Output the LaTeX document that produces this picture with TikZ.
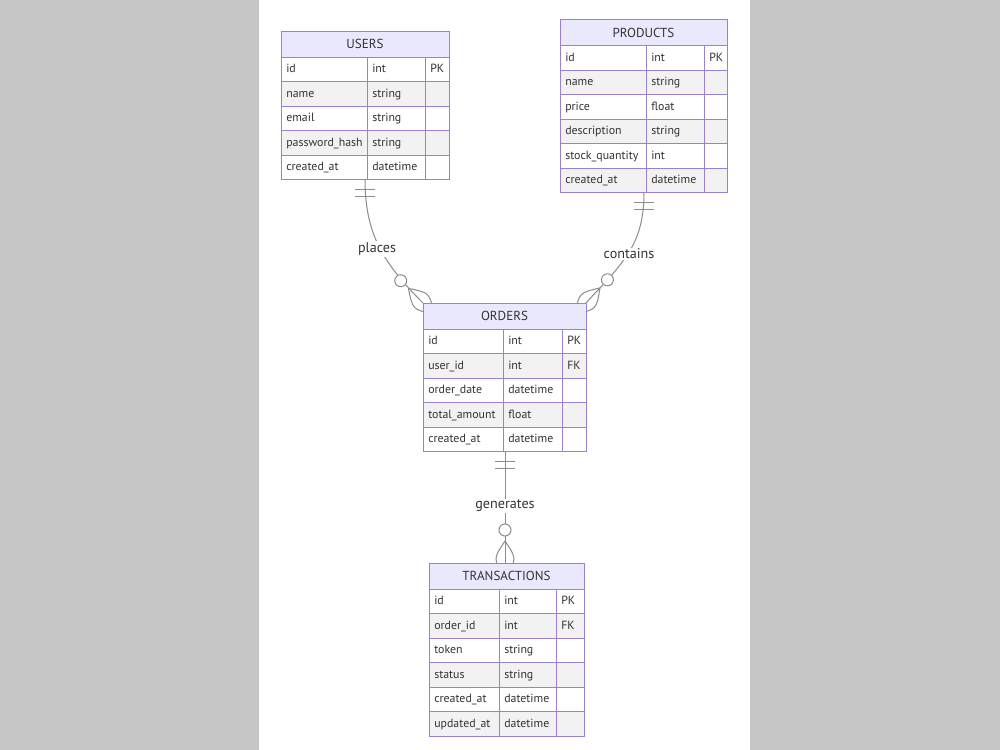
\documentclass[tikz,border=0pt]{standalone}
\usepackage{fontspec}
\setmainfont{PT Sans}
\usepackage{tikz}
\definecolor{erline}{HTML}{9A80DC}
\definecolor{erhead}{HTML}{EAE8FC}
\definecolor{errow}{HTML}{F2F2F2}
\definecolor{ertext}{HTML}{333333}
\definecolor{erlink}{HTML}{8C8C8C}
\definecolor{panel}{HTML}{C6C6C6}

\begin{document}
\begin{tikzpicture}[
  x=0.75pt,y=-0.75pt,
  box/.style={draw=erline,line width=0.75pt},
  hdr/.style={fill=erhead},
  roweven/.style={fill=errow},
  ttl/.style={inner sep=0pt,font=\fontsize{9.8}{11}\selectfont,text=ertext},
  cell/.style={anchor=west,inner sep=0pt,text height=6.4pt,text depth=1.8pt,font=\fontsize{8.9}{10}\selectfont,text=ertext},
  rel/.style={draw=erlink,line width=0.75pt},
  zcirc/.style={circle,draw=erlink,fill=white,line width=0.75pt,minimum size=9pt,inner sep=0pt},
  lbl/.style={fill=white,inner sep=1pt,font=\fontsize{10.6}{12}\selectfont,text=ertext},
]
\useasboundingbox (0,0) rectangle (1000,750);
\fill[panel] (0,0) rectangle (1000,750);
\fill[white] (259,0) rectangle (750,750);

% where the relations meet the tables
\coordinate (users-bot) at (365,179.5);
\coordinate (products-bot) at (644,192.5);
\coordinate (orders-tl) at (424,304);
\coordinate (orders-tr) at (585,304);
\coordinate (orders-bot) at (505,451.5);
\coordinate (trans-top) at (505,563);

% places
\draw[rel] (users-bot) .. controls +(0,55.5) and +(-40,-40) .. (orders-tl);
\draw[rel] (355,189.5) -- (375,189.5) (355,196) -- (375,196);
\draw[rel] (408.4,288.4) .. controls (429.7,292.7) .. (433.9,313.9) .. controls (412.7,309.7) .. (408.4,288.4);
\node[zcirc] (places-o) at (400.7,280.7) {};
% contains
\draw[rel] (products-bot) .. controls +(0,52.5) and +(38,-41) .. (orders-tr);
\draw[rel] (634,202.5) -- (654,202.5) (634,209) -- (654,209);
\draw[rel] (600,287.9) .. controls (578.9,292.9) .. (575.5,314.3) .. controls (596.5,309.3) .. (600,287.9);
\node[zcirc] (contains-o) at (607.4,279.8) {};
% generates
\draw[rel] (orders-bot) -- (trans-top);
\draw[rel] (495,461.5) -- (515,461.5) (495,468) -- (515,468);
\draw[rel] (505,541) .. controls (517,559) .. (505,577) .. controls (493,559) .. (505,541);
\node[zcirc] (generates-o) at (505,530) {};

% USERS
\fill[hdr] (281,31) rectangle (449,57);
\fill[white] (281,57) rectangle (449,179.5);
\fill[roweven] (281,81.5) rectangle (449,106) (281,130.5) rectangle (449,155);
\draw[box] (281,31) rectangle (449,179.5) (281,57) -- (449,57) (281,81.5) -- (449,81.5) (281,106) -- (449,106)
  (281,130.5) -- (449,130.5) (281,155) -- (449,155) (367,57) -- (367,179.5) (425,57) -- (425,179.5);
\node[ttl] (users) at (365,44) {USERS};
\node[cell] (users-id) at (286,69.5) {id}; \node[cell] (users-id-t) at (372,69.5) {int}; \node[cell] (users-id-k) at (430,69.5) {PK};
\node[cell] (users-name) at (286,94) {name}; \node[cell] (users-name-t) at (372,94) {string};
\node[cell] (users-email) at (286,118.5) {email}; \node[cell] (users-email-t) at (372,118.5) {string};
\node[cell] (users-pw) at (286,143) {password\_hash}; \node[cell] (users-pw-t) at (372,143) {string};
\node[cell] (users-cr) at (286,167.5) {created\_at}; \node[cell] (users-cr-t) at (372,167.5) {datetime};

% PRODUCTS
\fill[hdr] (560,19.5) rectangle (727,45.5);
\fill[white] (560,45.5) rectangle (727,192.5);
\fill[roweven] (560,70) rectangle (727,94.5) (560,119) rectangle (727,143.5) (560,168) rectangle (727,192.5);
\draw[box] (560,19.5) rectangle (727,192.5) (560,45.5) -- (727,45.5) (560,70) -- (727,70) (560,94.5) -- (727,94.5)
  (560,119) -- (727,119) (560,143.5) -- (727,143.5) (560,168) -- (727,168) (646,45.5) -- (646,192.5) (704,45.5) -- (704,192.5);
\node[ttl] (products) at (643.5,32.5) {PRODUCTS};
\node[cell] (products-id) at (565,58) {id}; \node[cell] (products-id-t) at (651,58) {int}; \node[cell] (products-id-k) at (709,58) {PK};
\node[cell] (products-name) at (565,82.5) {name}; \node[cell] (products-name-t) at (651,82.5) {string};
\node[cell] (products-price) at (565,107) {price}; \node[cell] (products-price-t) at (651,107) {float};
\node[cell] (products-desc) at (565,131.5) {description}; \node[cell] (products-desc-t) at (651,131.5) {string};
\node[cell] (products-stock) at (565,156) {stock\_quantity}; \node[cell] (products-stock-t) at (651,156) {int};
\node[cell] (products-cr) at (565,180.5) {created\_at}; \node[cell] (products-cr-t) at (651,180.5) {datetime};

% ORDERS
\fill[hdr] (423,303) rectangle (586,329);
\fill[white] (423,329) rectangle (586,451.5);
\fill[roweven] (423,353.5) rectangle (586,378) (423,402.5) rectangle (586,427);
\draw[box] (423,303) rectangle (586,451.5) (423,329) -- (586,329) (423,353.5) -- (586,353.5) (423,378) -- (586,378)
  (423,402.5) -- (586,402.5) (423,427) -- (586,427) (503,329) -- (503,451.5) (562,329) -- (562,451.5);
\node[ttl] (orders) at (504.5,316) {ORDERS};
\node[cell] (orders-id) at (428,341.5) {id}; \node[cell] (orders-id-t) at (508,341.5) {int}; \node[cell] (orders-id-k) at (567,341.5) {PK};
\node[cell] (orders-user) at (428,366) {user\_id}; \node[cell] (orders-user-t) at (508,366) {int}; \node[cell] (orders-user-k) at (567,366) {FK};
\node[cell] (orders-date) at (428,390.5) {order\_date}; \node[cell] (orders-date-t) at (508,390.5) {datetime};
\node[cell] (orders-total) at (428,415) {total\_amount}; \node[cell] (orders-total-t) at (508,415) {float};
\node[cell] (orders-cr) at (428,439.5) {created\_at}; \node[cell] (orders-cr-t) at (508,439.5) {datetime};

% TRANSACTIONS
\fill[hdr] (429,563) rectangle (584,589);
\fill[white] (429,589) rectangle (584,736);
\fill[roweven] (429,613.5) rectangle (584,638) (429,662.5) rectangle (584,687) (429,711.5) rectangle (584,736);
\draw[box] (429,563) rectangle (584,736) (429,589) -- (584,589) (429,613.5) -- (584,613.5) (429,638) -- (584,638)
  (429,662.5) -- (584,662.5) (429,687) -- (584,687) (429,711.5) -- (584,711.5) (499,589) -- (499,736) (556,589) -- (556,736);
\node[ttl] (trans) at (506.5,576) {TRANSACTIONS};
\node[cell] (trans-id) at (434,601.5) {id}; \node[cell] (trans-id-t) at (504,601.5) {int}; \node[cell] (trans-id-k) at (561,601.5) {PK};
\node[cell] (trans-order) at (434,626) {order\_id}; \node[cell] (trans-order-t) at (504,626) {int}; \node[cell] (trans-order-k) at (561,626) {FK};
\node[cell] (trans-token) at (434,650.5) {token}; \node[cell] (trans-token-t) at (504,650.5) {string};
\node[cell] (trans-status) at (434,675) {status}; \node[cell] (trans-status-t) at (504,675) {string};
\node[cell] (trans-cr) at (434,699.5) {created\_at}; \node[cell] (trans-cr-t) at (504,699.5) {datetime};
\node[cell] (trans-up) at (434,724) {updated\_at}; \node[cell] (trans-up-t) at (504,724) {datetime};

% relation names
\node[lbl] (places) at (377,249) {places};
\node[lbl] (contains) at (629,254) {contains};
\node[lbl] (generates) at (505,506) {generates};
\end{tikzpicture}
\end{document}
